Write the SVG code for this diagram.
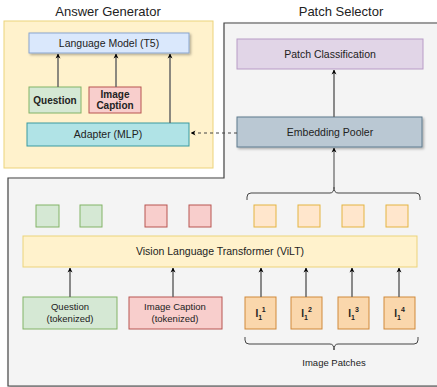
<svg xmlns="http://www.w3.org/2000/svg" width="437" height="387" viewBox="0 0 437 387">
  <defs>
    <marker id="arr" viewBox="0 0 10 10" refX="9" refY="5" markerWidth="5" markerHeight="6" orient="auto-start-reverse" markerUnits="userSpaceOnUse">
      <path d="M0,0 L10,5 L0,10 L3,5 Z" fill="#000"/>
    </marker>
    <filter id="shadow" x="-10%" y="-10%" width="130%" height="140%">
      <feDropShadow dx="1.5" dy="1.5" stdDeviation="0.8" flood-color="#000" flood-opacity="0.3"/>
    </filter>
  </defs>
  <style>
    text { font-family: "Liberation Sans", Arial, sans-serif; fill: #222; text-anchor: middle; }
    .title { font-size: 13px; fill: #222; }
    .lbl { font-size: 10.5px; }
    .sm { font-size: 9.5px; }
    .bold { font-weight: bold; font-size: 10px; }
    .wire { stroke: #666; stroke-width: 1.5; fill: none; }
    .brace { stroke: #444; stroke-width: 1; fill: none; }
    .green { fill: #d5e8d4; stroke: #82b366; }
    .red { fill: #f8cecc; stroke: #b85450; }
    .patch { fill: #fad7ac; stroke: #d0893a; }
    .tok { fill: #ffe6cc; stroke: #e4b440; }
  </style>

  <rect width="437" height="387" fill="#fff"/>

  <!-- container: patch selector (L-shaped) -->
  <g id="patch-selector">
    <path d="M224,23 H440 V386 H8 V178 H224 Z" fill="#f4f4f4" stroke="#444" stroke-width="1.2" filter="url(#shadow)"/>
    <text class="title" x="341" y="16">Patch Selector</text>
  </g>

  <!-- container: answer generator -->
  <g id="answer-generator">
    <rect x="4" y="21" width="209" height="147" fill="#fff2cc" stroke="#ecd37a"/>
    <text class="title" x="108" y="16">Answer Generator</text>
  </g>

  <g id="language-model">
    <rect x="29" y="33" width="160" height="20" fill="#dae8fc" stroke="#8aa6cf" filter="url(#shadow)"/>
    <text class="lbl" x="109" y="47">Language Model (T5)</text>
  </g>

  <g id="question">
    <rect x="29" y="87" width="52" height="26" class="green"/>
    <text class="bold" x="55" y="103.5">Question</text>
  </g>

  <g id="image-caption">
    <rect x="89" y="87" width="52" height="26" class="red"/>
    <text class="bold" x="115" y="98">Image</text>
    <text class="bold" x="115" y="109">Caption</text>
  </g>

  <g id="adapter">
    <rect x="27" y="123" width="162" height="23" fill="#b0e3e6" stroke="#3a9aa0"/>
    <text class="lbl" x="108" y="138">Adapter (MLP)</text>
  </g>

  <g id="patch-classification">
    <rect x="237" y="39" width="186" height="30" fill="#e1d5e7" stroke="#b89bc6"/>
    <text class="lbl" x="330" y="57.5">Patch Classification</text>
  </g>

  <g id="embedding-pooler">
    <rect x="237" y="117" width="185" height="30" fill="#bac8d3" stroke="#5f7a8e" filter="url(#shadow)"/>
    <text class="lbl" x="330" y="135.5">Embedding Pooler</text>
  </g>

  <g id="vilt">
    <rect x="23" y="236" width="394" height="31" fill="#fff2cc" stroke="#ecd37a"/>
    <text class="lbl" x="220" y="255">Vision Language Transformer (ViLT)</text>
  </g>

  <g id="question-tokens">
    <rect x="36" y="205" width="23" height="22" class="green"/>
    <rect x="80" y="205" width="22" height="22" class="green"/>
  </g>

  <g id="caption-tokens">
    <rect x="145" y="205" width="22" height="22" class="red"/>
    <rect x="189" y="205" width="22" height="22" class="red"/>
  </g>

  <g id="patch-tokens">
    <rect x="254" y="205" width="22" height="22" class="tok"/>
    <rect x="298" y="205" width="22" height="22" class="tok"/>
    <rect x="342" y="205" width="22" height="22" class="tok"/>
    <rect x="386" y="205" width="22" height="22" class="tok"/>
  </g>

  <g id="question-tokenized">
    <rect x="23" y="297" width="94" height="32" class="green"/>
    <text class="sm" x="70" y="310">Question</text>
    <text class="sm" x="70" y="322">(tokenized)</text>
  </g>

  <g id="caption-tokenized">
    <rect x="129" y="297" width="93" height="32" class="red"/>
    <text class="sm" x="175" y="310">Image Caption</text>
    <text class="sm" x="175" y="322">(tokenized)</text>
  </g>

  <g id="image-patches">
    <rect x="245" y="297" width="31" height="32" class="patch"/>
    <text class="bold" x="260.5" y="317">I<tspan font-size="7" dy="3">1</tspan><tspan font-size="7" dy="-8">1</tspan></text>
    <rect x="291" y="297" width="31" height="32" class="patch"/>
    <text class="bold" x="306.5" y="317">I<tspan font-size="7" dy="3">1</tspan><tspan font-size="7" dy="-8">2</tspan></text>
    <rect x="338" y="297" width="31" height="32" class="patch"/>
    <text class="bold" x="353.5" y="317">I<tspan font-size="7" dy="3">1</tspan><tspan font-size="7" dy="-8">3</tspan></text>
    <rect x="384" y="297" width="31" height="32" class="patch"/>
    <text class="bold" x="399.5" y="317">I<tspan font-size="7" dy="3">1</tspan><tspan font-size="7" dy="-8">4</tspan></text>
    <text class="sm" x="334" y="366">Image Patches</text>
  </g>

  <!-- connectors -->
  <g id="connectors">
    <line class="wire" x1="58" y1="87" x2="58" y2="54" marker-end="url(#arr)"/>
    <line class="wire" x1="116" y1="87" x2="116" y2="54" marker-end="url(#arr)"/>
    <line class="wire" x1="170" y1="123" x2="170" y2="54" marker-end="url(#arr)"/>
    <line x1="237" y1="133" x2="191" y2="133" stroke="#444" stroke-width="1" stroke-dasharray="3,3" marker-end="url(#arr)"/>
    <line class="wire" x1="334" y1="117" x2="334" y2="70" marker-end="url(#arr)"/>
    <line x1="334" y1="187" x2="334" y2="148" stroke="#444" stroke-width="1" marker-end="url(#arr)"/>
    <line class="wire" x1="70" y1="297" x2="70" y2="268" marker-end="url(#arr)"/>
    <line class="wire" x1="173" y1="297" x2="173" y2="268" marker-end="url(#arr)"/>
    <line class="wire" x1="261" y1="297" x2="261" y2="268" marker-end="url(#arr)"/>
    <line class="wire" x1="306" y1="297" x2="306" y2="268" marker-end="url(#arr)"/>
    <line class="wire" x1="352" y1="297" x2="352" y2="268" marker-end="url(#arr)"/>
    <line class="wire" x1="399" y1="297" x2="399" y2="268" marker-end="url(#arr)"/>
    <!-- brace over patch tokens -->
    <path class="brace" d="M247,200 V197 Q247,193 251,193 H330 Q334,193 334,187 Q334,193 338,193 H416 Q420,193 420,197 V200"/>
    <!-- brace under image patches -->
    <path class="brace" d="M245,337 V340 Q245,344 249,344 H330 Q334,344 334,350 Q334,344 338,344 H414 Q418,344 418,340 V337"/>
  </g>
</svg>
